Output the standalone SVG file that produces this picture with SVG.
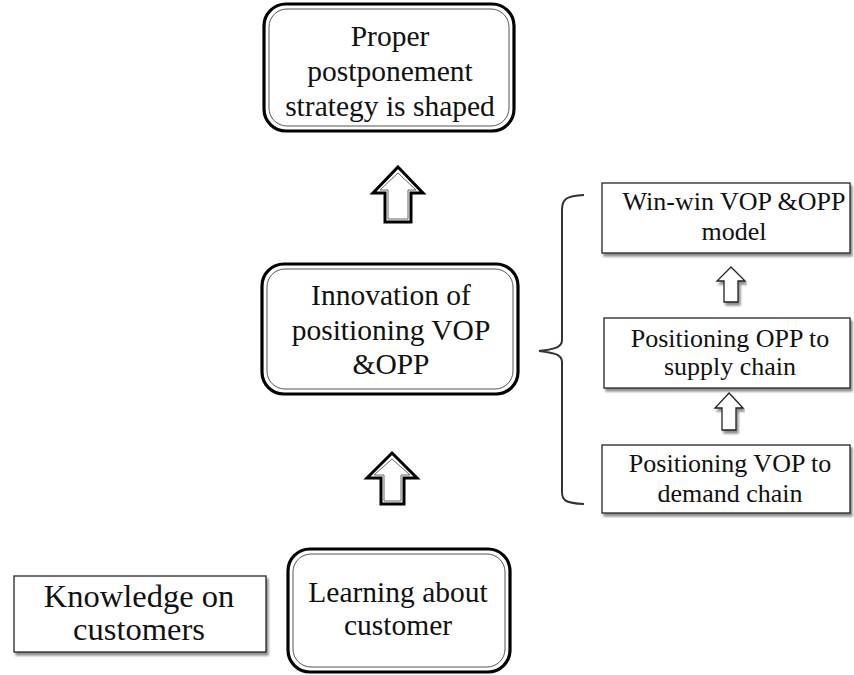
<svg xmlns="http://www.w3.org/2000/svg" width="854" height="675" viewBox="0 0 854 675">
  <defs>
    <filter id="shadow" x="-5%" y="-5%" width="112%" height="120%">
      <feGaussianBlur in="SourceAlpha" stdDeviation="1.2"/>
      <feOffset dx="1.5" dy="2.5" result="b"/>
      <feComponentTransfer><feFuncA type="linear" slope="0.45"/></feComponentTransfer>
      <feMerge><feMergeNode/><feMergeNode in="SourceGraphic"/></feMerge>
    </filter>
  </defs>
  <style>
    .outer { fill: #fff; stroke: #000; stroke-width: 3.2; }
    .inner { fill: none; stroke: #555; stroke-width: 1; }
    .plain { fill: #fff; stroke: #222; stroke-width: 1.3; }
    .big-arrow { fill: #fff; stroke: #000; stroke-width: 3; stroke-linejoin: miter; }
    .big-arrow-in { fill: none; stroke: #666; stroke-width: 1; }
    .small-arrow { fill: #fff; stroke: #222; stroke-width: 1.3; stroke-linejoin: miter; }
    .brace { fill: none; stroke: #333; stroke-width: 2; }
    text { font-family: "Liberation Serif", "Times New Roman", serif; fill: #111; text-anchor: middle; }
    .t-main { font-size: 29.5px; }
    .t-side { font-size: 26px; }
    .t-know { font-size: 32.5px; }
  </style>

  <!-- main chain of rounded boxes -->
  <g id="node-strategy">
    <rect class="outer" x="264" y="4" width="250" height="127" rx="22"/>
    <rect class="inner" x="269" y="9" width="240" height="117" rx="18"/>
    <text class="t-main" x="390" y="46">Proper</text>
    <text class="t-main" x="390" y="81">postponement</text>
    <text class="t-main" x="390" y="116">strategy is shaped</text>
  </g>

  <g id="node-innovation">
    <rect class="outer" x="262" y="264" width="256" height="130" rx="22"/>
    <rect class="inner" x="267" y="269" width="246" height="120" rx="18"/>
    <text class="t-main" x="391" y="305">Innovation of</text>
    <text class="t-main" x="391" y="340">positioning VOP</text>
    <text class="t-main" x="391" y="374">&amp;OPP</text>
  </g>

  <g id="node-learning">
    <rect class="outer" x="288" y="549" width="222" height="123" rx="22"/>
    <rect class="inner" x="293" y="554" width="212" height="113" rx="18"/>
    <text class="t-main" x="398" y="602">Learning about</text>
    <text class="t-main" x="398" y="635">customer</text>
  </g>

  <g id="node-knowledge">
    <rect class="plain" x="14" y="576" width="252" height="76" filter="url(#shadow)"/>
    <text class="t-know" x="139" y="607">Knowledge on</text>
    <text class="t-know" x="139" y="640">customers</text>
  </g>

  <!-- detail boxes on the right -->
  <g id="node-winwin">
    <rect class="plain" x="602" y="183" width="248" height="70" filter="url(#shadow)"/>
    <text class="t-side" x="734" y="210">Win-win VOP &amp;OPP</text>
    <text class="t-side" x="734" y="240">model</text>
  </g>

  <g id="node-opp">
    <rect class="plain" x="604" y="318" width="246" height="70" filter="url(#shadow)"/>
    <text class="t-side" x="730" y="347">Positioning OPP to</text>
    <text class="t-side" x="730" y="375">supply chain</text>
  </g>

  <g id="node-vop">
    <rect class="plain" x="602" y="445" width="248" height="68" filter="url(#shadow)"/>
    <text class="t-side" x="730" y="472">Positioning VOP to</text>
    <text class="t-side" x="730" y="502">demand chain</text>
  </g>

  <!-- connectors -->
  <g id="connectors">
    <!-- block arrows between main boxes -->
    <path class="big-arrow" d="M398,167 L423,193 L411,193 L411,222 L385,222 L385,193 L373,193 Z"/>
    <path class="big-arrow-in" d="M398,173 L416,190 L408,190 L408,219 L388,219 L388,190 L380,190 Z"/>
    <path class="big-arrow" d="M392,453 L417,478 L404,478 L404,504 L381,504 L381,478 L367,478 Z"/>
    <path class="big-arrow-in" d="M392,459 L410,475 L401,475 L401,501 L384,501 L384,475 L374,475 Z"/>

    <!-- small arrows between detail boxes -->
    <path class="small-arrow" filter="url(#shadow)" d="M731,267 L745,281 L738,281 L738,302 L724,302 L724,281 L717,281 Z"/>
    <path class="small-arrow" filter="url(#shadow)" d="M729,393 L743,408 L736,408 L736,430 L722,430 L722,408 L715,408 Z"/>

    <!-- brace grouping the detail boxes -->
    <path class="brace" d="M584,195 C566,196 562,199 562,210 L562,340 C562,347 556,349 539,351 C556,353 562,355 562,362 L562,492 C562,501 566,503 584,504"/>
  </g>
</svg>
